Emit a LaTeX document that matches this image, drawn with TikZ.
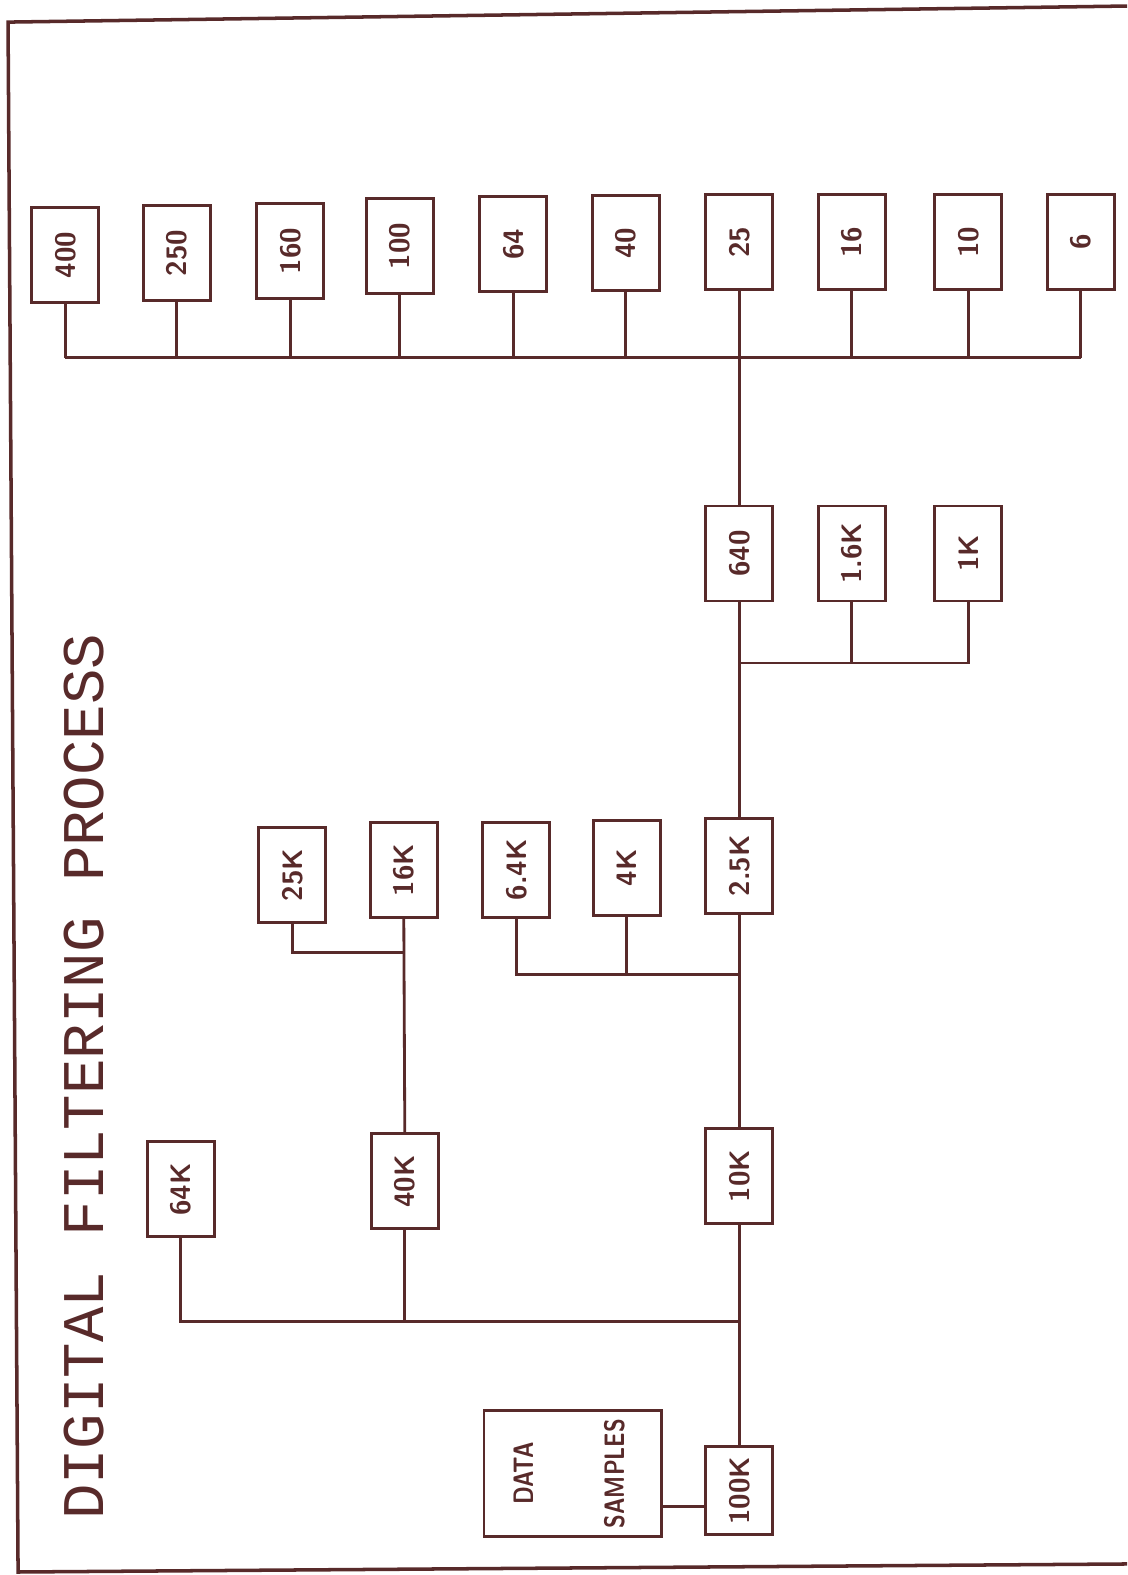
\documentclass[tikz,border=0pt]{standalone}
\usepackage{fontspec}
\newfontfamily\plotfont{Liberation Mono}
\newcommand{\rlab}[1]{\rotatebox{90}{#1}}

\begin{document}
\begin{tikzpicture}[x=0.010045cm,y=-0.010045cm,
    box/.style={draw,line width=0.8pt,minimum width=0.67cm,minimum height=0.95cm,inner sep=0pt,
        font=\sffamily\bfseries\fontsize{8}{9}\selectfont},
    wire/.style={line width=0.8pt}]
            \definecolor{ink}{RGB}{88,42,42}
            \useasboundingbox (0,0) rectangle (1122,1568);
            \begin{scope}[color=ink]
            % frame and title
            \draw[line width=1pt] (1122,6) -- (8,22) -- (18,1565) -- (1122,1557);
            \node[rotate=90,inner sep=0pt,font=\plotfont\fontsize{16.8}{18}\selectfont] (title) at (84,1072) {DIGITAL FILTERING PROCESS};
            % output rates
            \foreach \lab/\xx/\yy in {400/65/254,250/176/252,160/289/250,100/398/245,64/511/243,40/623/242,25/736/241,16/848/241,10/964/241,6/1076/241}{
                \node[box] (f\lab) at (\xx,\yy) {\rlab{\lab}};
            }
            \node[box] (f640) at (736,551) {\rlab{640}};
            \node[box] (fonesix) at (848,551) {\rlab{1.6K}};
            \node[box] (fone) at (964,551) {\rlab{1K}};
            \node[box] (ftwentyfive) at (291,871) {\rlab{25K}};
            \node[box] (fsixteen) at (402,866) {\rlab{16K}};
            \node[box] (fsixfour) at (514,866) {\rlab{6.4K}};
            \node[box] (ffour) at (624,864) {\rlab{4K}};
            \node[box] (ftwofive) at (736,862) {\rlab{2.5K}};
            \node[box] (fsixtyfour) at (180,1184) {\rlab{64K}};
            \node[box] (fforty) at (403,1176) {\rlab{40K}};
            \node[box] (ften) at (736,1171) {\rlab{10K}};
            \node[box,minimum height=0.88cm] (fhundred) at (736,1484) {\rlab{100K}};
            \node[box,minimum width=1.77cm,minimum height=1.26cm] (data) at (570,1467)
                {\rlab{\scalebox{0.8}[1]{\begin{tabular}{@{}c@{}}DATA\\[17pt]SAMPLES\end{tabular}}}};
            % buses
            \coordinate (topbus) at (0,356);
            \coordinate (midbus) at (0,660);
            \coordinate (busa) at (0,948);
            \coordinate (busb) at (0,970);
            \coordinate (busc) at (0,1316);
            \coordinate (dlink) at (0,1500);
            \foreach \n in {f400,f250,f160,f100,f64,f40,f16,f10,f6}{
                \draw[wire] (\n.south) -- (\n.south |- topbus);
            }
            \draw[wire] (f400.south |- topbus) -- (f6.south |- topbus);
            \draw[wire] (f25.south) -- (f640.north);
            \draw[wire] (f640.south) -- (ftwofive.north);
            \draw[wire] (fonesix.south) -- (fonesix.south |- midbus);
            \draw[wire] (fone.south) |- (f640.south |- midbus);
            \draw[wire] (ftwentyfive.south) |- (fsixteen.south |- busa);
            \draw[wire] (fsixteen.south) -- (fforty.north);
            \draw[wire] (ffour.south) -- (ffour.south |- busb);
            \draw[wire] (fsixfour.south) |- (ftwofive.south |- busb);
            \draw[wire] (ftwofive.south) -- (ften.north);
            \draw[wire] (fforty.south) -- (fforty.south |- busc);
            \draw[wire] (fsixtyfour.south) |- (ften.south |- busc);
            \draw[wire] (ften.south) -- (fhundred.north);
            \draw[wire] (data.east |- dlink) -- (fhundred.west |- dlink);
            \end{scope}
        \end{tikzpicture}
\end{document}
